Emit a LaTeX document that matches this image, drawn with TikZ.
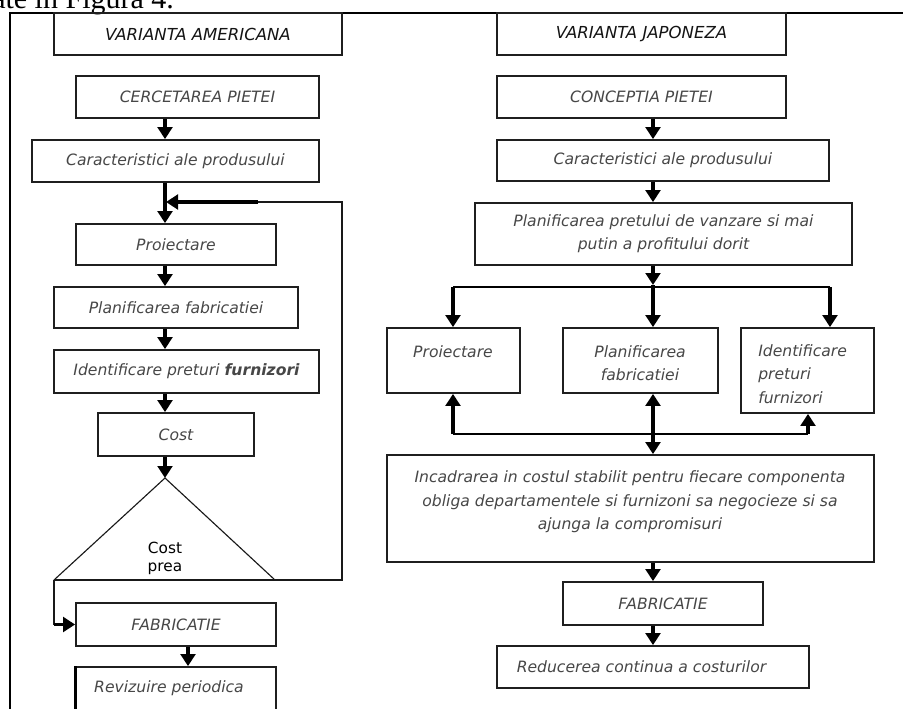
\documentclass[tikz,border=0pt]{standalone}
\usepackage{fontspec}
\setmainfont{DejaVu Sans}
\newfontfamily\serifhdr{Liberation Serif}
\usetikzlibrary{arrows.meta}
\newcommand\bodyf{\itshape\fontsize{11.7}{17.5}\selectfont}
\newcommand\headf{\itshape\fontsize{12.4}{15}\selectfont}
\begin{document}
\begin{tikzpicture}[x=0.75pt,y=-0.75pt,
  box/.style={draw=black!88,line width=1.35pt,inner sep=0pt,text=black!72,font=\bodyf},
  hbox/.style={box,text=black!92,font=\headf},
  txt/.style={inner sep=0pt,text=black!72,font=\bodyf},
  arr/.style={line width=2.4pt,-{Triangle[width=11pt,length=9pt]}},
  darr/.style={line width=2.4pt,{Triangle[width=11pt,length=9pt]}-{Triangle[width=11pt,length=9pt]}},
  thickline/.style={line width=1.8pt},
  thinline/.style={line width=0.85pt,draw=black!90},
  frameline/.style={line width=1.2pt}]
\useasboundingbox (0,0) rectangle (903,708);
\clip (0,0) rectangle (903,708);
\fill[white] (0,0) rectangle (903,708);

% heading text and frame
\node[anchor=base west,inner sep=0pt,font=\serifhdr\fontsize{22.5}{27}\selectfont] (hdr) at (-8,8) {ate in Figura 4.};
\coordinate (frBL) at (10,720);
\coordinate (frTL) at (10,13);
\coordinate (frTR) at (910,13);
\draw[frameline] (frBL) -- (frTL) -- (frTR);

% ---------------- left column ----------------
\node[hbox,minimum width=216pt,minimum height=31.5pt] (A0) at (198,34) {VARIANTA AMERICANA};
\node[box,minimum width=182.25pt,minimum height=31.5pt] (A1) at (197.5,97) {CERCETAREA PIETEI};
\node[box,minimum width=215.25pt,minimum height=31.5pt] (A2) at (175.5,161) {Caracteristici ale produsului};
\node[box,minimum width=150pt,minimum height=30.75pt] (A3) at (176,244.5) {Proiectare};
\node[box,minimum width=183pt,minimum height=30.75pt] (A4) at (176,307.5) {Planificarea fabricatiei};
\node[box,minimum width=198.75pt,minimum height=32.25pt] (A5) at (186.5,371.5) {Identificare preturi \textbf{furnizori}};
\node[box,minimum width=117pt,minimum height=32.25pt] (A6) at (176,434.5) {Cost};
\node[box,minimum width=150pt,minimum height=32.25pt] (A7) at (176,624.5) {FABRICATIE};
\node[box,minimum width=150pt,minimum height=54.75pt] (A8) at (176,703.5) {};
\draw[line width=2.2pt] (A8.north west) -- (A8.south west);
\node[txt] (A8t) at (169,688) {Revizuire periodica};

\coordinate (ax) at (165,0);
\coordinate (bx) at (188,0);
\draw[arr] (A1.south -| ax) -- (A2.north -| ax);
\draw[arr] (A2.south -| ax) -- (A3.north -| ax);
\draw[arr] (A3.south -| ax) -- (A4.north -| ax);
\draw[arr] (A4.south -| ax) -- (A5.north -| ax);
\draw[arr] (A5.south -| ax) -- (A6.north -| ax);

% decision triangle
\coordinate (tA) at (165,478);
\coordinate (tL) at (54,580);
\coordinate (tR) at (275,580);
\draw[arr] (A6.south -| ax) -- (tA);
\draw[thinline] (tL) -- (tA) -- (tR);
\node[inner sep=0pt,align=center,text=black,font=\fontsize{11.5}{13.5}\selectfont] (tT) at (165,558) {Cost\\prea};

% feedback loop
\coordinate (fbR) at (342,580);
\coordinate (fbT) at (342,202);
\coordinate (fbM) at (258,202);
\coordinate (fbJ) at (166,202);
\draw[thinline,line join=miter] (tL) -- (fbR) -- (fbT) -- (fbM);
\draw[arr] (fbM) -- (fbJ);

% to FABRICATIE
\coordinate (tLd) at (54,624.5);
\draw[thinline,line width=1.2pt] (tL) -- (tLd);
\draw[arr] (tLd) -- (A7.west);
\draw[arr] (A7.south -| bx) -- (A8.north -| bx);

% ---------------- right column ----------------
\node[hbox,minimum width=216.75pt,minimum height=31.5pt] (J0) at (641.5,34) {VARIANTA JAPONEZA};
\node[box,minimum width=216.75pt,minimum height=31.5pt] (J1) at (641.5,97) {CONCEPTIA PIETEI};
\node[box,minimum width=249pt,minimum height=30.75pt] (J2) at (663,160.5) {Caracteristici ale produsului};
\node[box,minimum width=282.75pt,minimum height=46.5pt,align=center,font=\itshape\fontsize{11.7}{17.5}\selectfont] (J3) at (663.5,234) {Planificarea pretului de vanzare si mai\\putin a profitului dorit};
\node[box,minimum width=99.75pt,minimum height=48.75pt] (J4) at (453.5,360.5) {};
\node[txt] (J4t) at (453,352) {Proiectare};
\node[box,minimum width=116.25pt,minimum height=48.75pt] (J5) at (640.5,360.5) {};
\node[txt,align=center] (J5t) at (640,363) {Planificarea\\fabricatiei};
\node[box,minimum width=99.75pt,minimum height=63.75pt] (J6) at (807.5,370.5) {};
\node[txt,align=left,anchor=west] (J6t) at (758,374) {Identificare\\preturi\\furnizori};
\node[box,minimum width=365.25pt,minimum height=80.25pt] (J7) at (630.5,508.5) {};
\node[txt,align=center] (J7t) at (630,502) {Incadrarea in costul stabilit pentru fiecare componenta\\obliga departamentele si furnizoni sa negocieze si sa\\ajunga la compromisuri};
\node[box,minimum width=150pt,minimum height=32.25pt] (J8) at (663,603.5) {FABRICATIE};
\node[box,minimum width=234pt,minimum height=31.5pt] (J9) at (653,667) {};
\node[txt] (J9t) at (641.5,667) {Reducerea continua a costurilor};

\coordinate (jx) at (653,0);
\draw[arr] (J1.south -| jx) -- (J2.north -| jx);
\draw[arr] (J2.south -| jx) -- (J3.north -| jx);
\coordinate (jm) at (653,285);
\coordinate (jbl) at (453,287);
\coordinate (jbr) at (830,287);
\draw[arr] (J3.south -| jx) -- (jm);
\draw[thickline] (jbl) -- (jbr);
\draw[arr] (jbl) -- (J4.north -| jbl);
\draw[arr] (jm) -- (J5.north -| jx);
\draw[arr] (jbr) -- (J6.north -| jbr);

\coordinate (jdl) at (453,434);
\coordinate (jdr) at (808,434);
\draw[thickline] (jdl) -- (jdr);
\draw[arr] (jdl) -- (J4.south -| jdl);
\draw[arr] (jdr) -- (J6.south -| jdr);
\draw[darr] (J5.south -| jx) -- (J7.north -| jx);

\draw[arr] (J7.south -| jx) -- (J8.north -| jx);
\draw[arr] (J8.south -| jx) -- (J9.north -| jx);
\end{tikzpicture}
\end{document}
